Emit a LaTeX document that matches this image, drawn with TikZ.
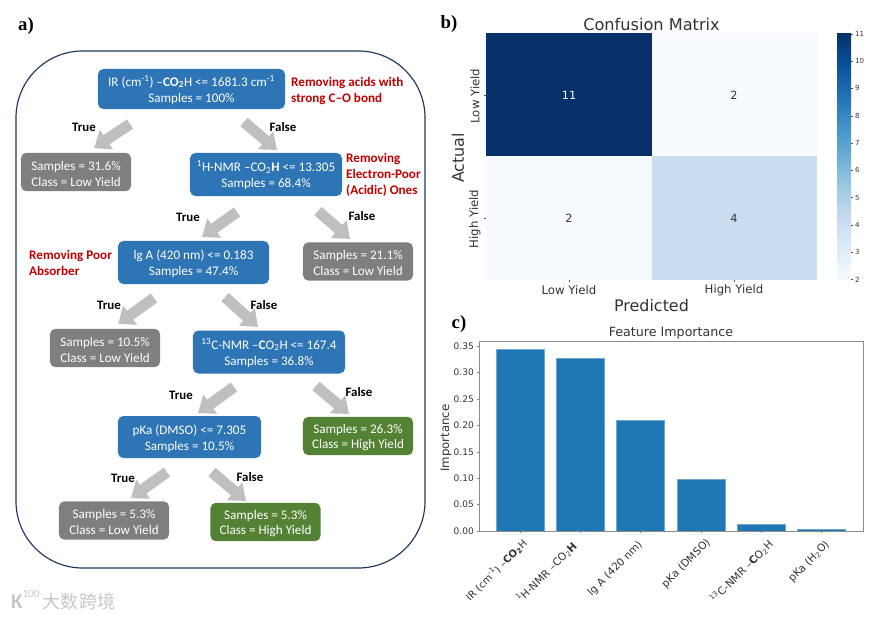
\documentclass[tikz,border=0pt]{standalone}
\usepackage{fontspec}
\usepackage{xcolor}
\setmainfont{Carlito}
\newfontfamily\plotfont{DejaVu Sans}
\newfontfamily\panelfont{Liberation Serif}
\newfontfamily\cjkfont{Noto Sans CJK SC}
\usetikzlibrary{arrows.meta,positioning}

\newcommand{\lift}{\rule{0pt}{10.4pt}}

\definecolor{nodeblue}{HTML}{2E75B6}
\definecolor{nodegray}{HTML}{7F7F7F}
\definecolor{nodegreen}{HTML}{548235}
\definecolor{notered}{HTML}{C00000}
\definecolor{framenavy}{HTML}{1F3A5F}
\definecolor{barblue}{HTML}{1F77B4}
\definecolor{cella}{HTML}{08306B}
\definecolor{cellb}{HTML}{F7FBFF}
\definecolor{cellc}{HTML}{CADDF0}
\definecolor{bluesa}{HTML}{F7FBFF}
\definecolor{bluesb}{HTML}{DEEBF7}
\definecolor{bluesc}{HTML}{C6DBEF}
\definecolor{bluesd}{HTML}{9ECAE1}
\definecolor{bluese}{HTML}{6BAED6}
\definecolor{bluesf}{HTML}{4292C6}
\definecolor{bluesg}{HTML}{2171B5}
\definecolor{bluesh}{HTML}{08519C}
\definecolor{bluesi}{HTML}{08306B}

\tikzset{
	treebox/.style={rounded corners=0.16cm,text=white,inner sep=0pt,align=center,font=\fontsize{11.2}{13.6}\selectfont},
	splitbox/.style={treebox,fill=nodeblue},
	lowbox/.style={treebox,fill=nodegray,minimum width=3.3cm,minimum height=1.15cm},
	highbox/.style={treebox,fill=nodegreen,minimum width=3.3cm,minimum height=1.15cm},
	branchlabel/.style={font=\fontsize{11}{13}\selectfont\bfseries,inner sep=0pt},
	rednote/.style={font=\fontsize{11.2}{13.6}\selectfont\bfseries,text=notered,align=left,anchor=west,inner sep=0pt},
	panellabel/.style={font=\panelfont\fontsize{16}{18}\selectfont\bfseries,inner sep=0pt},
	blockarrow/.style={draw=black!25,line width=0.33cm,-{Triangle[length=0.45cm,width=0.68cm]}},
	plottext/.style={font=\plotfont\fontsize{#1}{#1}\selectfont,inner sep=0pt,text=black!80},
}

\begin{document}
\begin{tikzpicture}[x=0.03cm,y=-0.03cm]
\useasboundingbox (0,0) rectangle (883,619);

	\node[panellabel] (panela) at (26,26) {a)};
	\node[panellabel] (panelb) at (449,24) {b)};
	\node[panellabel] (panelc) at (459,324) {c)};

\draw[framenavy,line width=0.035cm,rounded corners=2cm] (16,51) rectangle (425,568);% outer frame

% tree boxes
\node[splitbox,minimum width=5.61cm,minimum height=1.2cm] (irnode) at (191.5,89) {\lift IR (cm\textsuperscript{-1}) –\textbf{CO\textsubscript{2}}H <= 1681.3 cm\textsuperscript{-1}\\Samples = 100\%};
\node[lowbox] (lowa) at (76,172) {\lift Samples = 31.6\%\\Class = Low Yield};
\node[splitbox,minimum width=4.56cm,minimum height=1.29cm] (hnmrnode) at (266,174.5) {\lift\textsuperscript{1}H-NMR –CO\textsubscript{2}\textbf{H} <= 13.305\\Samples = 68.4\%};
\node[splitbox,minimum width=4.53cm,minimum height=1.29cm] (lgnode) at (193.5,262.5) {\lift lg A (420 nm) <= 0.183\\Samples = 47.4\%};
\node[lowbox] (lowb) at (358,261.5) {\lift Samples = 21.1\%\\Class = Low Yield};
\node[lowbox] (lowc) at (105,348) {\lift Samples = 10.5\%\\Class = Low Yield};
\node[splitbox,minimum width=4.56cm,minimum height=1.29cm] (cnmrnode) at (269,352) {\lift\textsuperscript{13}C-NMR –\textbf{C}O\textsubscript{2}H <= 167.4\\Samples = 36.8\%};
\node[splitbox,minimum width=4.29cm,minimum height=1.26cm] (pkanode) at (189.5,437) {\lift pKa (DMSO) <= 7.305\\Samples = 10.5\%};
\node[highbox] (higha) at (358,436) {\lift Samples = 26.3\%\\Class = High Yield};
\node[lowbox] (lowd) at (114,520.5) {\lift Samples = 5.3\%\\Class = Low Yield};
\node[highbox] (highb) at (265.5,522) {\lift Samples = 5.3\%\\Class = High Yield};

% red notes
\node[rednote] (notea) at (291,91) {Removing acids with\\strong C–O bond};
\node[rednote] (noteb) at (346,175) {Removing\\Electron-Poor\\(Acidic) Ones};
\node[rednote] (notec) at (29,263) {Removing Poor\\Absorber};

% block arrows
\coordinate (irT) at (130,124);		\coordinate (lowaT) at (94,148);
\coordinate (irF) at (244,122);		\coordinate (hnmrF) at (277,150);
\coordinate (hnmrT) at (237,212);	\coordinate (lgT) at (202,237);
\coordinate (hnmrR) at (318,211);	\coordinate (lowbF) at (350,239);
\coordinate (lgL) at (154,298);		\coordinate (lowcT) at (118,324);
\coordinate (lgR) at (225,297);		\coordinate (cnmrF) at (258,327);
\coordinate (cnmrL) at (234,387);	\coordinate (pkaT) at (198,413);
\coordinate (cnmrR) at (316,386);	\coordinate (highaF) at (349,414);
\coordinate (pkaL) at (167,472);	\coordinate (lowdT) at (131,498);
\coordinate (pkaR) at (212,472);	\coordinate (highbF) at (246,501);
\foreach \from/\to in {irT/lowaT,irF/hnmrF,hnmrT/lgT,hnmrR/lowbF,lgL/lowcT,lgR/cnmrF,cnmrL/pkaT,cnmrR/highaF,pkaL/lowdT,pkaR/highbF}
	\draw[blockarrow] (\from) -- (\to);

\node[branchlabel] (truea) at (84,127) {True};
\node[branchlabel] (falsea) at (283,127) {False};
\node[branchlabel] (trueb) at (188,217) {True};
\node[branchlabel] (falseb) at (362,216) {False};
\node[branchlabel] (truec) at (109,305) {True};
\node[branchlabel] (falsec) at (264,305) {False};
\node[branchlabel] (trued) at (181,395) {True};
\node[branchlabel] (falsed) at (359,392) {False};
\node[branchlabel] (truee) at (123,478) {True};
\node[branchlabel] (falsee) at (250,477) {False};

% confusion matrix
\fill[cella] (486,33.5) rectangle (651.5,156.5);
\fill[cellb] (651.5,33.5) rectangle (817,156.5);
\fill[cellb] (486,156.5) rectangle (651.5,279.5);
\fill[cellc] (651.5,156.5) rectangle (817,279.5);
\node[plottext=13.8] (cmtitle) at (651.5,24) {Confusion Matrix};
\node[plottext=9.6,text=white] (cellaa) at (569,95) {11};
\node[plottext=9.6] (cellab) at (734,95) {2};
\node[plottext=9.6] (cellba) at (569,218) {2};
\node[plottext=9.6] (cellbb) at (734,218) {4};
\node[plottext=10] (cmxa) at (569,290) {Low Yield};
\node[plottext=10] (cmxb) at (734,290) {High Yield};
\node[plottext=13.6] (cmxlabel) at (651.5,305.5) {Predicted};
\node[plottext=10,rotate=90] (cmya) at (475,96) {Low Yield};
\node[plottext=10,rotate=90] (cmyb) at (475,219) {High Yield};
\node[plottext=13.6,rotate=90] (cmylabel) at (458,158) {Actual};
\draw[black!70,line width=0.01cm] (486,95) -- ++(-2,0) (486,218) -- ++(-2,0) (569,279.5) -- ++(0,2) (734,279.5) -- ++(0,2);

% colour bar
\foreach \lo/\hi [count=\i from 0] in {bluesa/bluesb,bluesb/bluesc,bluesc/bluesd,bluesd/bluese,bluese/bluesf,bluesf/bluesg,bluesg/bluesh,bluesh/bluesi}
	\shade[bottom color=\lo,top color=\hi,shading angle=0] (837,{279.5-\i*30.7}) rectangle (851,{279.5-(\i+1)*30.7-0.2});
\foreach \v in {2,...,11}{
	\draw[black!70,line width=0.01cm] (851,{279.5-(\v-2)*27.3}) -- ++(2,0);
	\node[plottext=6,anchor=west] (cb\v) at (855,{279.5-(\v-2)*27.3}) {\v};
}

% feature importance
\foreach \left/\top in {496/349.3,556.5/358.3,616.5/420,677/479.3,737/523.7,797/529}
	\filldraw[fill=barblue,draw=barblue!65!white,line width=0.012cm] (\left,\top) rectangle ({\left+48},531);
\draw[black!45,line width=0.03cm] (479,341) rectangle (863,531);
\foreach \left in {496,556.5,616.5,677,737,797}
	\draw[black!50,line width=0.01cm] ({\left+24},531) -- ++(0,2);
\foreach \v/\t in {0/0.00,1/0.05,2/0.10,3/0.15,4/0.20,5/0.25,6/0.30,7/0.35}{
	\draw[black!50,line width=0.01cm] (479,{531-\v*26.4}) -- ++(-2,0);
	\node[plottext=7.7,anchor=east] (fy\v) at (474,{531-\v*26.4}) {\t};
}
\node[plottext=10.8] (fititle) at (671,333) {Feature Importance};
\node[plottext=10,rotate=90] (fiylabel) at (446,438) {Importance};
\node[plottext=8.6,rotate=45,anchor=east] (fia) at (525,541) {IR (cm\textsuperscript{-1}) –\textbf{CO\textsubscript{2}}H};
\node[plottext=9,rotate=45,anchor=east] (fib) at (575,544) {\textsuperscript{1}H-NMR –CO\textsubscript{2}\textbf{H}};
\node[plottext=9,rotate=45,anchor=east] (fic) at (641,543) {lg A (420 nm)};
\node[plottext=9,rotate=45,anchor=east] (fid) at (709,541) {pKa (DMSO)};
\node[plottext=9,rotate=45,anchor=east] (fie) at (771,542) {\textsuperscript{13}C-NMR –\textbf{C}O\textsubscript{2}H};
\node[plottext=9,rotate=45,anchor=east] (fif) at (828,543) {pKa (H\textsubscript{2}O)};

% watermark
\node[text=black!22,font=\fontsize{18}{18}\selectfont\bfseries,inner sep=0pt] (markk) at (17,602) {K};
\node[text=black!22,font=\fontsize{9.5}{10}\selectfont,inner sep=0pt] (markn) at (31,594) {100};
\node[text=black!22,font=\cjkfont\fontsize{15.4}{16}\selectfont,inner sep=0pt] (marktext) at (79,602) {大数跨境};

\end{tikzpicture}
\end{document}
